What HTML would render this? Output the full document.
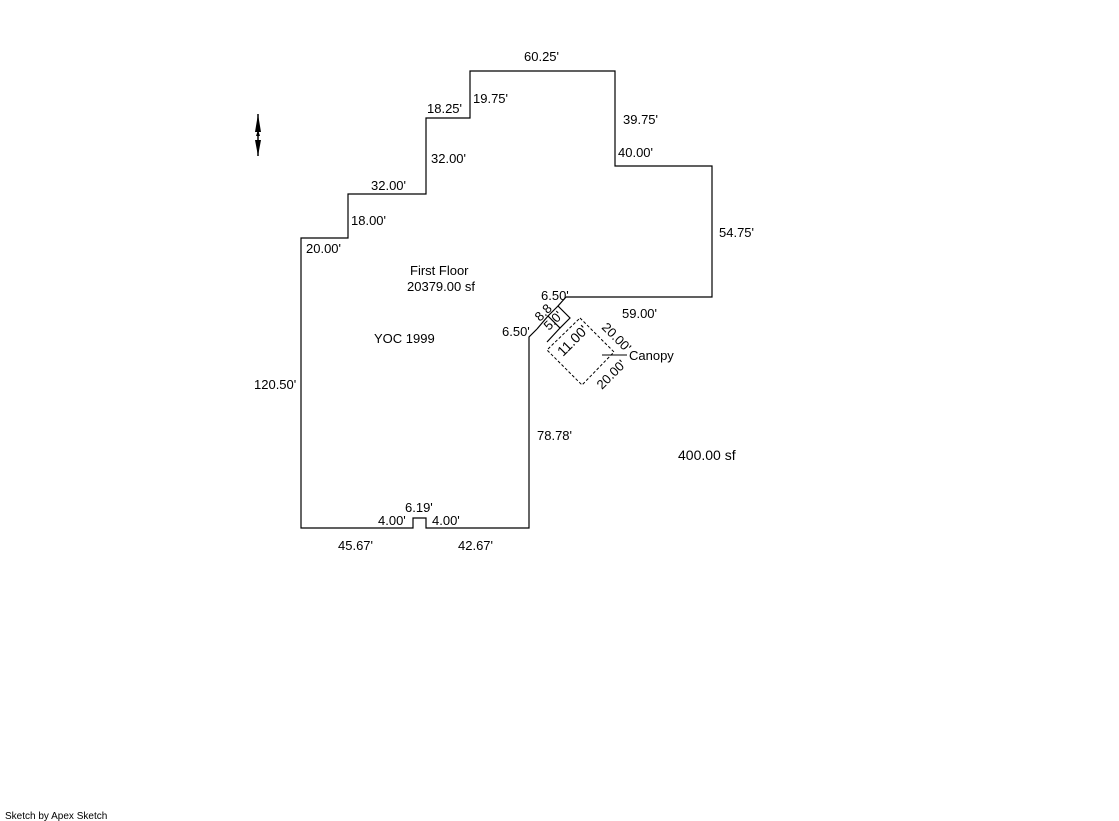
<!DOCTYPE html>
<html><head><style>
body{margin:0;background:#fff;}
svg{display:block;}
text{font-family:"Liberation Sans",sans-serif;font-size:13px;fill:#000;}
</style></head><body>
<svg width="1119" height="821" viewBox="0 0 1119 821">
<polyline fill="none" stroke="#000" stroke-width="1.2" points="566,297 712,297 712,166 615,166 615,71 470,71 470,118 426,118 426,194 348,194 348,238 301,238 301,528 413,528 413,518 426,518 426,528 529,528 529,337 537,329"/>
<polyline fill="none" stroke="#000" stroke-width="1.2" points="566,297 558,306 570,318 560,328 548,316 558,306"/>
<line x1="537" y1="329" x2="548" y2="316" stroke="#000" stroke-width="1.2"/>
<line x1="560" y1="328" x2="547" y2="342" stroke="#000" stroke-width="1.2"/>
<polygon fill="none" stroke="#000" stroke-width="1" stroke-dasharray="3,2" points="580,318 614,352 582,385 547,350"/>
<line x1="602" y1="355" x2="627" y2="355" stroke="#000" stroke-width="1"/>
<path d="M258,114 L255,132 L261,132 Z M258,130 L256,136 L260,136 Z M255,140 L258,156 L261,140 Z" fill="#000"/>
<line x1="258" y1="114" x2="258" y2="156" stroke="#000" stroke-width="1.5"/>
<text x="524" y="61">60.25'</text>
<text x="473" y="103">19.75'</text>
<text x="427" y="113">18.25'</text>
<text x="623" y="124">39.75'</text>
<text x="618" y="157">40.00'</text>
<text x="431" y="163">32.00'</text>
<text x="371" y="190">32.00'</text>
<text x="351" y="225">18.00'</text>
<text x="306" y="253">20.00'</text>
<text x="719" y="237">54.75'</text>
<text x="410" y="275">First Floor</text>
<text x="407" y="291">20379.00 sf</text>
<text x="541" y="300">6.50'</text>
<text x="622" y="318">59.00'</text>
<text x="502" y="336">6.50'</text>
<text x="374" y="343">YOC 1999</text>
<text x="629" y="360" font-size="12">Canopy</text>
<text x="254" y="389">120.50'</text>
<text x="537" y="440">78.78'</text>
<text x="678" y="460" style="font-size:14px">400.00 sf</text>
<text x="405" y="512">6.19'</text>
<text x="378" y="525">4.00'</text>
<text x="432" y="525">4.00'</text>
<text x="338" y="550">45.67'</text>
<text x="458" y="550">42.67'</text>
<text transform="translate(563,357) rotate(-45)" style="font-size:14px">11.00'</text>
<text transform="translate(601,328) rotate(45)" font-size="13">20.00'</text>
<text transform="translate(602,390) rotate(-45)" font-size="13">20.00'</text>
<text transform="translate(540,322) rotate(-45)" font-size="12">8.8</text>
<text transform="translate(549,331) rotate(-45)" font-size="12">5.0'</text>
<text x="5" y="819" style="font-size:10px">Sketch by Apex Sketch</text>
</svg>
</body></html>
